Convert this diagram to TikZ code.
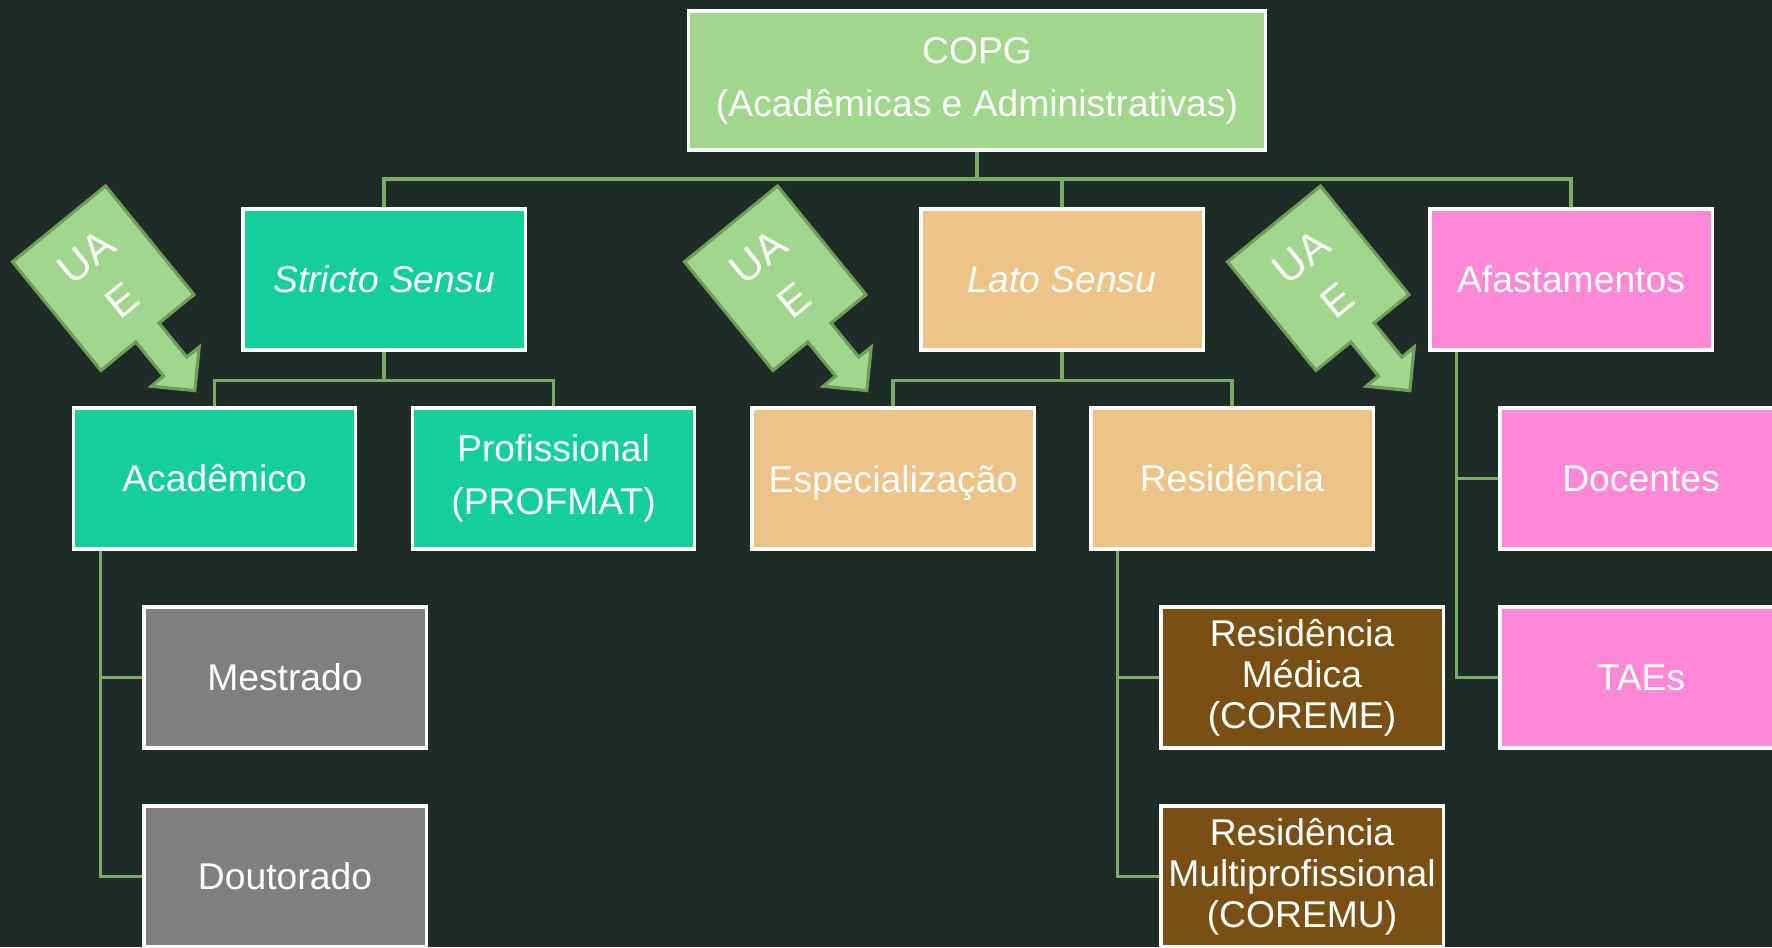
\documentclass[tikz,border=0pt]{standalone}
\usepackage{fontspec}
\setmainfont{Liberation Sans}

\definecolor{fundo}{RGB}{31,43,39}
\definecolor{verdeclaro}{RGB}{161,214,141}
\definecolor{verdeborda}{RGB}{110,158,90}
\definecolor{ligverde}{RGB}{120,172,100}
\definecolor{turquesa}{RGB}{20,207,155}
\definecolor{areia}{RGB}{237,195,136}
\definecolor{rosa}{RGB}{255,137,214}
\definecolor{cinza}{RGB}{127,127,127}
\definecolor{marrom}{RGB}{122,79,19}

\tikzset{
  caixa/.style={draw=white, line width=0.9pt, minimum width=2.82cm, minimum height=1.41cm,
    inner sep=1pt, text=white, align=center, font=\fontsize{10.6}{15}\selectfont},
  caixatres/.style={caixa, font=\fontsize{10.6}{11.6}\selectfont},
  ligacao/.style={draw=ligverde, line width=0.9pt},
  seta/.style={fill=verdeclaro, draw=verdeborda, line width=0.9pt, line join=miter},
  rotulo/.style={text=white, align=center, rotate=39.2, font=\fontsize{12}{16}\selectfont}
}

\begin{document}
\begin{tikzpicture}[x=0.01cm, y=-0.01cm]
  \useasboundingbox (0,0) rectangle (1772,947);
  \fill[fundo] (0,0) rectangle (1772,947);

  % niveis
  \node[caixa, fill=verdeclaro, minimum width=5.77cm, minimum height=1.39cm] (copg) at (977,80.5)
    {COPG\\(Acadêmicas e Administrativas)};

  \node[caixa, fill=turquesa] (stricto) at (384,279.5) {\textit{Stricto Sensu}};
  \node[caixa, fill=areia] (lato) at (1062,279.5) {\textit{Lato Sensu}};
  \node[caixa, fill=rosa] (afast) at (1571,279.5) {Afastamentos};

  \node[caixa, fill=turquesa] (academico) at (214.5,478.5) {Acadêmico};
  \node[caixa, fill=turquesa] (profissional) at (553.5,478.5) {Profissional\\(PROFMAT)};
  \node[caixa, fill=areia, text depth=0pt] (especializacao) at (893,478.5) {Especialização};
  \node[caixa, fill=areia] (residencia) at (1232,478.5) {Residência};
  \node[caixa, fill=rosa] (docentes) at (1641,478.5) {Docentes};

  \node[caixa, fill=cinza] (mestrado) at (285,677.5) {Mestrado};
  \node[caixa, fill=cinza] (doutorado) at (285,876.5) {Doutorado};
  \node[caixatres, fill=marrom] (medica) at (1302,677.5) {Residência\\Médica\\(COREME)};
  \node[caixatres, fill=marrom] (multi) at (1302,876.5) {Residência\\Multiprofissional\\(COREMU)};
  \node[caixa, fill=rosa] (taes) at (1641,677.5) {TAEs};

  % ligacoes
  \coordinate (b0) at (977,179);
  \draw[ligacao] (copg.south) -- (b0);
  \draw[ligacao] (stricto.north) |- (b0) -| (afast.north);
  \draw[ligacao] (b0) -| (lato.north);

  \draw[ligacao] (stricto.south) -- ++(0,29) coordinate (s1);
  \draw[ligacao] (academico.north) |- (s1) -| (profissional.north);
  \draw[ligacao] (lato.south) -- ++(0,29) coordinate (l1);
  \draw[ligacao] (especializacao.north) |- (l1) -| (residencia.north);

  \draw[ligacao] ([xshift=0.29cm]academico.south west) |- (mestrado.west);
  \draw[ligacao] ([xshift=0.29cm]academico.south west) |- (doutorado.west);
  \draw[ligacao] ([xshift=0.28cm]residencia.south west) |- (medica.west);
  \draw[ligacao] ([xshift=0.28cm]residencia.south west) |- (multi.west);
  \draw[ligacao] ([xshift=0.28cm]afast.south west) |- (docentes.west);
  \draw[ligacao] ([xshift=0.28cm]afast.south west) |- (taes.west);

  % setas UAE
  \foreach \dx in {0,672,1215}{
    \begin{scope}[shift={(\dx,0)}]
      \draw[seta] (105.5,186) -- (193.9,294.6) -- (159,323) -- (186.8,357.1) -- (199.2,347)
        -- (194.8,390.6) -- (151.2,386.2) -- (163.6,376.1) -- (135.8,342) -- (100.9,370.4)
        -- (12.5,261.8) -- cycle;
      \node[rotulo] (uae\dx) at (104,279) {UA\\E};
    \end{scope}
  }
\end{tikzpicture}
\end{document}
